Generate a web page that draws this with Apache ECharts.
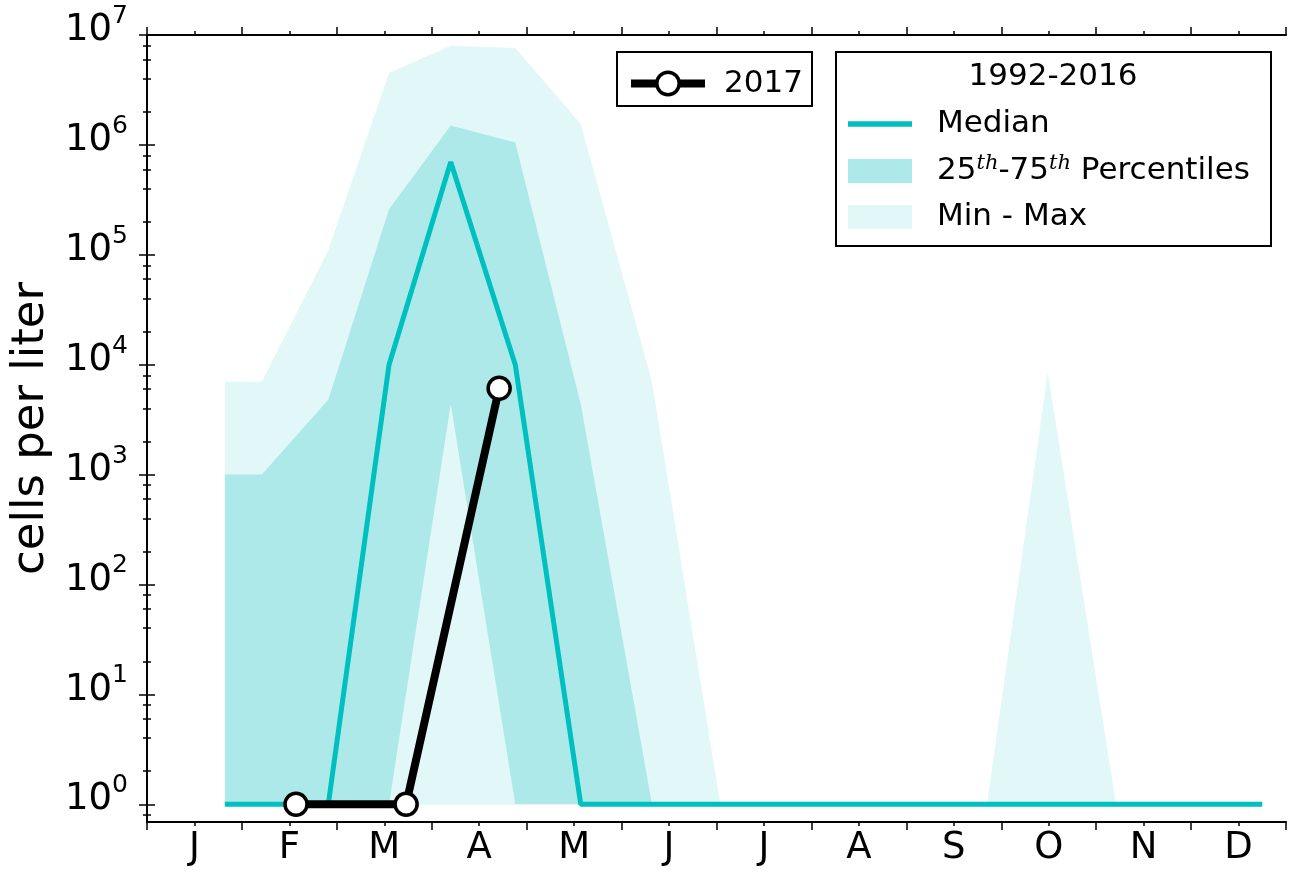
<!DOCTYPE html>
<html><head><meta charset="utf-8">
<script src="https://cdn.jsdelivr.net/npm/echarts@6/dist/echarts.min.js"></script>
<style>html,body{margin:0;padding:0;background:#fff}#c{width:1294px;height:873px}</style>
</head><body><div id="c"></div>
<script>
// ---- data ----
const monthLabels = ['J','F','M','A','M','J','J','A','S','O','N','D'];
const monthCenters = [0.5,1.5,2.5,3.5,4.5,5.5,6.5,7.5,8.5,9.5,10.5,11.5];
const climX      = [0.82, 1.21, 1.91, 2.55, 3.20, 3.88, 4.57, 5.32, 6.04, 8.85, 9.49, 10.21, 11.75];
const maxVals    = [7000, 7000, 110000, 4500000, 8000000, 7600000, 1550000, 7000, 1, 1, 8500, 1, 1];
const p75Vals    = [1000, 1000, 4800, 260000, 1500000, 1050000, 4400, 1, 1, 1, 1, 1, 1];
const p25Vals    = [1, 1, 1, 1, 4400, 1, 1, 1, 1, 1, 1, 1, 1];
const minVals    = [1, 1, 1, 1, 1, 1, 1, 1, 1, 1, 1, 1, 1];
const medianVals = [1, 1, 1, 10000, 700000, 10000, 1, 1, 1, 1, 1, 1, 1];
const x2017      = [1.57, 2.73, 3.71];
const vals2017   = [1, 1, 6100];
const majorTicks = [1, 10, 100, 1000, 10000, 100000, 1000000, 10000000];
const minorTicks = [0.8, 2,4,6,8, 20,40,60,80, 200,400,600,800, 2000,4000,6000,8000,
  20000,40000,60000,80000, 200000,400000,600000,800000, 2000000,4000000,6000000,8000000];

const FONT = 'DejaVu Sans';
const TEAL = '#00bfbf';
const DARK = '#ade9e9';
const LIGHT = '#e2f7f7';

const zip = (xs, ys) => xs.map((x, i) => [x, ys[i]]);

const chart = echarts.init(document.getElementById('c'), null, {renderer: 'canvas'});

const axisLineStyle = {show: true, lineStyle: {color: '#000', width: 2}};
function xAx(pos, major, labels) {
  const a = {
    type: 'value', min: 0, max: 12, position: pos,
    splitLine: {show: false},
    axisLine: major ? axisLineStyle : {show: false},
    axisTick: {show: true, length: major ? 8 : 4, lineStyle: {color: '#000', width: 1.5}},
    axisLabel: {show: false}
  };
  if (major) a.interval = 1;
  else a.axisTick.customValues = monthCenters;
  if (labels) {
    a.axisLabel = {show: true, customValues: monthCenters, margin: 8,
      formatter: v => monthLabels[Math.floor(v)], color: '#000', fontSize: 37, fontFamily: FONT};
  }
  return a;
}
function yAx(pos, major, labels) {
  const a = {
    type: 'log', logBase: 10, min: 0.69, max: 1e7, position: pos,
    splitLine: {show: false}, minorTick: {show: false},
    axisLine: major ? axisLineStyle : {show: false},
    axisTick: {show: true, customValues: major ? majorTicks : minorTicks, length: major ? 8 : 4,
      lineStyle: {color: '#000', width: 1.5}},
    axisLabel: {show: false}
  };
  if (labels) {
    a.axisLabel = {show: true, customValues: majorTicks, margin: 19,
      formatter: v => '{b|10}{s|' + Math.round(Math.log10(v)) + '}',
      rich: {
        b: {fontSize: 37, fontFamily: FONT, color: '#000', lineHeight: 40, verticalAlign: 'bottom', padding: [0,0,6,0]},
        s: {fontSize: 25, fontFamily: FONT, color: '#000', lineHeight: 28, verticalAlign: 'bottom', padding: [0,0,26,0]}
      }};
    a.name = 'cells per liter';
    a.nameLocation = 'middle';
    a.nameRotate = 90;
    a.nameGap = 90;
    a.nameTextStyle = {fontSize: 45, fontFamily: FONT, color: '#000'};
  }
  return a;
}

const option = {
  animation: false,
  backgroundColor: '#fff',
  grid: {left: 147, right: 8, top: 35, bottom: 51, containLabel: false},
  xAxis: [xAx('bottom', true, false), xAx('bottom', false, true), xAx('top', true, false), xAx('top', false, false)],
  yAxis: [yAx('left', true, true), yAx('left', false, false), yAx('right', true, false), yAx('right', false, false)],
  legend: [
    {data: [{name: '2017'}], left: 622, top: 63, orient: 'horizontal', selectedMode: false, z: 100,
     itemWidth: 74, itemHeight: 28,
     lineStyle: {width: 8, color: '#000'},
     itemStyle: {color: '#fff', borderColor: '#000', borderWidth: 3.5},
     textStyle: {fontSize: 31, lineHeight: 28, fontFamily: FONT, color: '#000', padding: [0,0,0,14]}},
    {data: [
       {name: 'Median', icon: 'path://M0,0h60v5h-60z', itemStyle: {color: TEAL}},
       {name: '25th-75th Percentiles', icon: 'rect'},
       {name: 'Min - Max', icon: 'rect'}],
     left: 843, top: 102, orient: 'vertical', selectedMode: false, z: 100,
     itemWidth: 64, itemHeight: 24, itemGap: 12, symbolKeepAspect: true,
     formatter: n => n === '25th-75th Percentiles' ? '25{s|th}-75{s|th} Percentiles' : n,
     textStyle: {fontSize: 31, lineHeight: 34, fontFamily: FONT, color: '#000', padding: [0,0,0,20],
       rich: {s: {fontSize: 21, lineHeight: 20, fontFamily: 'DejaVu Serif', fontStyle: 'italic', color: '#000',
                  verticalAlign: 'bottom', padding: [0,0,14,0]}}}}
  ],
  graphic: [
    {type: 'rect', shape: {x: 617, y: 52, width: 195, height: 54}, style: {fill: '#fff', stroke: '#000', lineWidth: 2}, z: 50},
    {type: 'rect', shape: {x: 836, y: 52, width: 435, height: 194}, style: {fill: '#fff', stroke: '#000', lineWidth: 2}, z: 50},
    {type: 'text', x: 1053, y: 77, style: {text: '1992-2016', align: 'center', verticalAlign: 'middle',
      font: '31px "DejaVu Sans"', fill: '#000'}, z: 100}
  ],
  series: [
    {name: 'Min - Max', type: 'line', data: zip(climX, maxVals), symbol: 'none', color: LIGHT,
     lineStyle: {width: 0}, areaStyle: {color: LIGHT, opacity: 1, origin: minVals[0]}, silent: true, z: 1},
    {name: '25th-75th Percentiles', type: 'line', data: zip(climX, p75Vals), symbol: 'none', color: DARK,
     lineStyle: {width: 0}, areaStyle: {color: DARK, opacity: 1, origin: minVals[0]}, silent: true, z: 2},
    {name: 'p25', type: 'line', data: zip(climX, p25Vals), symbol: 'none', color: LIGHT,
     lineStyle: {width: 0}, areaStyle: {color: LIGHT, opacity: 1, origin: minVals[0]}, silent: true, z: 3},
    {name: 'Median', type: 'line', data: zip(climX, medianVals), symbol: 'none', color: TEAL,
     lineStyle: {width: 5, color: TEAL}, silent: true, z: 4},
    {name: '2017', type: 'line', data: zip(x2017, vals2017), symbol: 'circle', symbolSize: 22, color: '#000',
     lineStyle: {width: 8, color: '#000'}, itemStyle: {color: '#fff', borderColor: '#000', borderWidth: 3.5},
     silent: true, z: 5}
  ]
};
chart.setOption(option);
</script></body></html>
